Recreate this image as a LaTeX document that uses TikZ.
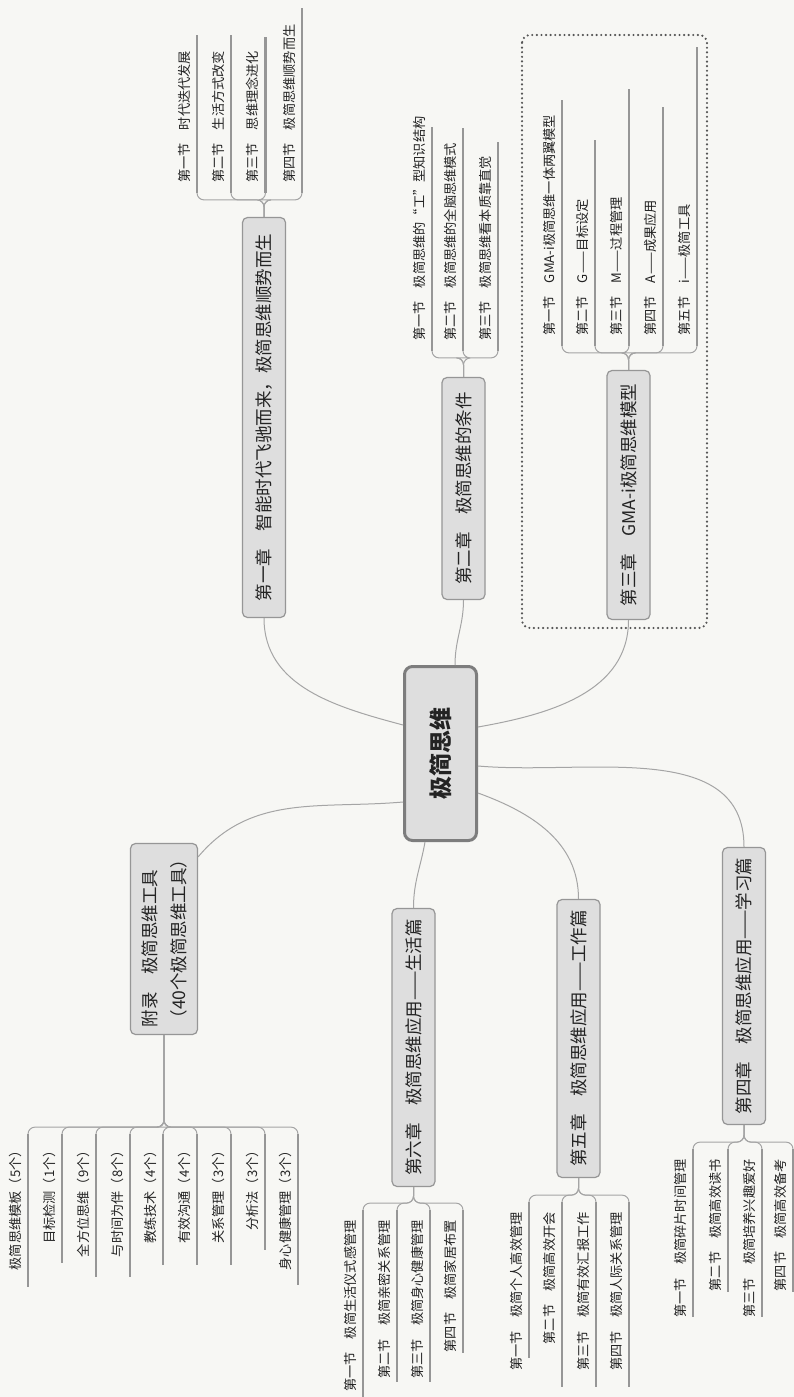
\documentclass[tikz,border=0pt]{standalone}
\usepackage{fontspec}
\setmainfont{Noto Sans CJK SC}
\usepackage{tikz}
\usetikzlibrary{positioning}
\definecolor{PaperColor}{RGB}{247,247,244}
\definecolor{InkColor}{RGB}{35,35,35}
\definecolor{BoxColor}{RGB}{222,222,222}
\definecolor{EdgeColor}{RGB}{150,150,150}
\definecolor{RootEdge}{RGB}{125,125,125}
\definecolor{LinkColor}{RGB}{165,165,165}
\definecolor{UnderColor}{RGB}{150,150,150}
\definecolor{DotColor}{RGB}{85,85,85}

\begin{document}
\begin{tikzpicture}[x=1pt, y=-1pt, text=InkColor,
    root/.style={rotate=90, draw=RootEdge, fill=BoxColor, line width=3pt, rounded corners=8pt,
      minimum width=174pt, minimum height=72pt, font=\fontsize{23}{26}\selectfont\bfseries},
    chap/.style={rotate=90, draw=EdgeColor, fill=BoxColor, line width=1.2pt, rounded corners=5pt,
      minimum height=43pt, inner sep=0pt, font=\fontsize{17.5}{29}\selectfont},
    secup/.style={rotate=90, anchor=south west, inner xsep=10pt, inner ysep=6.5pt, font=\fontsize{13.2}{15}\selectfont},
    secdown/.style={rotate=90, anchor=south east, inner xsep=10pt, inner ysep=6.5pt, font=\fontsize{13.2}{15}\selectfont},
    secline/.style={draw=UnderColor, line width=2.4pt},
    link/.style={draw=LinkColor, line width=1pt},
    conn/.style={draw=LinkColor, line width=1pt, rounded corners=7pt},
    gmabox/.style={draw=DotColor, line width=2.4pt, dash pattern=on 0pt off 4.6pt, line cap=round, rounded corners=8pt}]
    % Paper
    \fill[PaperColor] (0,0) rectangle (794,1397);
    \useasboundingbox (0,0) rectangle (794,1397);
    % Central topic
    \node[root] (root) at (440.5,753.5) {极简思维};
    % Chapter boxes
    \node[chap, minimum width=400pt] (ch1) at (264,417.5) {第一章　智能时代飞驰而来，极简思维顺势而生};
    \node[chap, minimum width=222pt] (ch2) at (463.5,488.5) {第二章　极简思维的条件};
    \node[chap, minimum width=249pt] (ch3) at (628.5,495) {第三章　GMA-i极简思维模型};
    \node[chap, minimum width=277pt] (ch4) at (744,986) {第四章　极简思维应用——学习篇};
    \node[chap, minimum width=278pt] (ch5) at (578.5,1038.5) {第五章　极简思维应用——工作篇};
    \node[chap, minimum width=278pt] (ch6) at (413.5,1047.5) {第六章　极简思维应用——生活篇};
    \node[chap, minimum width=191pt, minimum height=67pt, align=left] (yl) at (164,939) {附录　极简思维工具\\（40个极简思维工具）};
    % Root to chapters
    \draw[link] ([yshift=28.5pt]root.north) to[out=165,in=-90] (ch1.west);
    \draw[link] ([xshift=14.5pt]root.east) to[out=90,in=-90] (ch2.west);
    \draw[link] ([yshift=26.5pt]root.south) to[out=10,in=-90] (ch3.west);
    \draw[link] ([yshift=-12.5pt]root.south) to[out=-5,in=90] (ch4.east);
    \draw[link] ([yshift=-39.5pt]root.south) to[out=-20,in=90] (ch5.east);
    \draw[link] ([xshift=-15.5pt]root.west) to[out=-100,in=90] (ch6.east);
    \draw[link] ([yshift=-48.5pt]root.north) to[out=185,in=50] ([yshift=-14pt]yl.south east);
    % Chapter 1 sections
    \foreach \x/\e/\txt [count=\i] in {197/35/{第一节　时代迭代发展}, 231/35/{第二节　生活方式改变},
        265.5/37/{第三节　思维理念进化}, 302/8/{第四节　极简思维顺势而生}} {
      \node[secup] (s1\i) at (\x,193) {\txt};
      \draw[secline] (s1\i.south west) -- (\x,\e);
      \draw[conn] (ch1.east) -- ++(0,-17) -| (s1\i.south west);
    }
    % Chapter 2 sections
    \foreach \x/\e/\txt [count=\i] in {432/127/{第一节　极简思维的“工”型知识结构}, 463/128/{第二节　极简思维的全脑思维模式},
        498/142/{第三节　极简思维看本质靠直觉}} {
      \node[secup] (s2\i) at (\x,351) {\txt};
      \draw[secline] (s2\i.south west) -- (\x,\e);
      \draw[conn] (ch2.east) -- ++(0,-19) -| (s2\i.south west);
    }
    % Chapter 3 sections
    \foreach \x/\e/\txt [count=\i] in {562/100/{第一节　GMA-i极简思维一体两翼模型}, 595/140/{第二节　G——目标设定},
        629/89/{第三节　M——过程管理}, 663/107/{第四节　A——成果应用}, 697/47/{第五节　i——极简工具}} {
      \node[secup] (s3\i) at (\x,346) {\txt};
      \draw[secline] (s3\i.south west) -- (\x,\e);
      \draw[conn] (ch3.east) -- ++(0,-17) -| (s3\i.south west);
    }
    % GMA-i frame
    \draw[gmabox] (522,35) rectangle (707,628);
    % Chapter 4 sections
    \foreach \x/\e/\txt [count=\i] in {693/1317/{第一节　极简碎片时间管理}, 728/1292/{第二节　极简高效读书},
        762/1317/{第三节　极简培养兴趣爱好}, 793/1292/{第四节　极简高效备考}} {
      \node[secdown] (s4\i) at (\x,1149) {\txt};
      \draw[secline] (s4\i.south east) -- (\x,\e);
      \draw[conn] (ch4.west) -- ++(0,17) -| (s4\i.south east);
    }
    % Chapter 5 sections
    \foreach \x/\e/\txt [count=\i] in {529/1358/{第一节　极简个人高效管理}, 562/1387/{第二节　极简高效开会},
        596/1387/{第三节　极简有效汇报工作}, 629/1387/{第四节　极简人际关系管理}} {
      \node[secdown] (s5\i) at (\x,1202) {\txt};
      \draw[secline] (s5\i.south east) -- (\x,\e);
      \draw[conn] (ch5.west) -- ++(0,17) -| (s5\i.south east);
    }
    % Chapter 6 sections
    \foreach \x/\e/\txt [count=\i] in {363/1397/{第一节　极简生活仪式感管理}, 397/1382/{第二节　极简亲密关系管理},
        430/1382/{第三节　极简身心健康管理}, 463/1353/{第四节　极简家居布置}} {
      \node[secdown] (s6\i) at (\x,1210) {\txt};
      \draw[secline] (s6\i.south east) -- (\x,\e);
      \draw[conn] (ch6.west) -- ++(0,16) -| (s6\i.south east);
    }
    % Appendix tools
    \foreach \x/\e/\txt [count=\i] in {28/1287/{极简思维模板（5个）}, 62/1263/{目标检测（1个）}, 96/1277/{全方位思维（9个）},
        130/1277/{与时间为伴（8个）}, 163/1265/{教练技术（4个）}, 197/1265/{有效沟通（4个）},
        231/1265/{关系管理（3个）}, 265/1250/{分析法（3个）}, 298/1285/{身心健康管理（3个）}} {
      \node[secdown] (t\i) at (\x,1134) {\txt};
      \draw[secline] (t\i.south east) -- (\x,\e);
      \draw[conn] (yl.west) -- ++(0,92) -| (t\i.south east);
    }
\end{tikzpicture}
\end{document}
